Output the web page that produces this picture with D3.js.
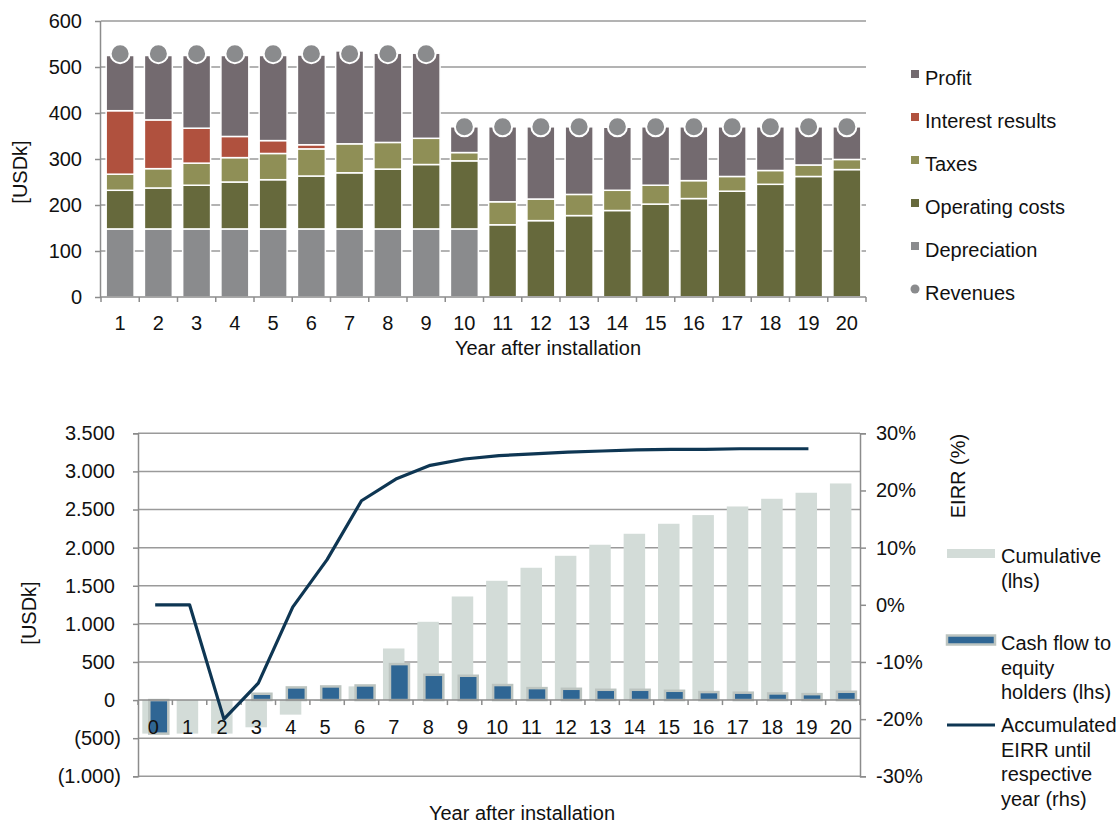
<!DOCTYPE html>
<html lang="en">
<head>
  <meta charset="UTF-8">
  <title>Revenues and cash flow</title>
  <style>
    body { margin: 0; background: #fff; font-family: "Liberation Sans", Arial, sans-serif; }
    text { fill: #111; font-size: 20px; }
    .grid line { stroke: #9a9a9a; stroke-width: 1.5px; }
    .axis path, .axis line { stroke: #8c8c8c; stroke-width: 1.5px; }
    .axis text { font-size: 20px; font-family: "Liberation Sans", Arial, sans-serif; fill: #111; }
  </style>
</head>
<body>
  <script src="https://d3js.org/d3.v7.min.js"></script>
  <script>
    // ---- top chart data (USDk) ----
    const years = d3.range(1, 21);
    const depreciation = [148, 148, 148, 148, 148, 148, 148, 148, 148, 148, 0, 0, 0, 0, 0, 0, 0, 0, 0, 0];
    const operatingCosts = [84, 89, 95, 102, 107, 115, 122, 130, 140, 148, 157, 166, 177, 188, 202, 214, 230, 245, 262, 277];
    const taxes = [35, 42, 48, 53, 57, 59, 63, 58, 57, 18, 50, 47, 46, 44, 41, 39, 32, 30, 25, 22];
    const interestResults = [138, 106, 76, 46, 28, 9, -2, -2, -2, -2, -2, -2, -2, -2, -2, -2, -2, -2, -2, -2];
    const profit = [120, 140, 158, 176, 185, 195, 202, 194, 185, 56, 163, 157, 147, 137, 127, 117, 108, 95, 83, 71];
    const revenues = [529, 529, 529, 529, 529, 529, 529, 529, 529, 370, 370, 370, 370, 370, 370, 370, 370, 370, 370, 370];
    const topTicks = [0, 100, 200, 300, 400, 500, 600];

    // ---- bottom chart data ----
    const years2 = d3.range(0, 21);
    const cumulative = [-440, -440, -440, -357, -191, -12, 180, 677, 1027, 1359, 1565, 1736, 1893, 2038, 2182, 2313, 2427, 2540, 2641, 2720, 2842];
    const cashFlow = [-440, 0, 0, 83, 166, 179, 192, 472, 332, 319, 197, 157, 148, 135, 135, 122, 105, 97, 87, 78, 109];
    const eirr = [0, 0, -0.20, -0.137, -0.004, 0.079, 0.182, 0.22, 0.244, 0.255, 0.261, 0.264, 0.267, 0.269, 0.271, 0.272, 0.272, 0.273, 0.273, 0.273];
    const leftTicks = [-1000, -500, 0, 500, 1000, 1500, 2000, 2500, 3000, 3500];
    const rightTicks = [-0.3, -0.2, -0.1, 0, 0.1, 0.2, 0.3];

    const svg = d3.select("body").append("svg").attr("width", 1120).attr("height", 825);

    // ================= TOP CHART =================
    const keys = ["Depreciation", "Operating costs", "Taxes", "Interest results", "Profit"];
    const colors = {
      "Profit": "#736a6f",
      "Interest results": "#b0513e",
      "Taxes": "#8f8f56",
      "Operating costs": "#66693c",
      "Depreciation": "#8a8b8d",
      "Revenues": "#8a8b8d"
    };
    const rows = years.map((y, i) => ({
      year: y,
      "Depreciation": depreciation[i],
      "Operating costs": operatingCosts[i],
      "Taxes": taxes[i],
      "Interest results": interestResults[i],
      "Profit": profit[i]
    }));

    const x1 = d3.scaleBand().domain(years).range([101, 866]).paddingInner(0.27).paddingOuter(0.135);
    const y1 = d3.scaleLinear().domain([0, 600]).range([297, 21]);

    svg.append("g").attr("class", "grid")
      .selectAll("line").data(topTicks.filter(d => d > 0)).join("line")
      .attr("x1", 101).attr("x2", 866)
      .attr("y1", d => y1(d)).attr("y2", d => y1(d));

    const stack = d3.stack().keys(keys).offset(d3.stackOffsetDiverging);
    const series = stack(rows);

    svg.append("g").selectAll("g").data(series).join("g")
      .attr("fill", d => colors[d.key])
      .selectAll("rect").data(d => d).join("rect")
      .attr("x", d => x1(d.data.year))
      .attr("width", x1.bandwidth())
      .attr("y", d => y1(Math.max(d[0], d[1])))
      .attr("height", d => Math.abs(y1(d[0]) - y1(d[1])))
      .attr("stroke", "#fff").attr("stroke-width", 1.5);

    svg.append("g").selectAll("circle").data(revenues).join("circle")
      .attr("cx", (d, i) => x1(years[i]) + x1.bandwidth() / 2)
      .attr("cy", d => y1(d))
      .attr("r", 9.5)
      .attr("fill", colors["Revenues"])
      .attr("stroke", "#fff").attr("stroke-width", 2);

    svg.append("g").attr("class", "axis")
      .attr("transform", "translate(101,0)")
      .call(d3.axisLeft(y1).tickValues(topTicks).tickSize(6).tickPadding(13))
      .call(g => g.select(".domain").attr("d", "M-0.5,21V297"));

    // x axis: labels at band centres, ticks at band edges
    const xAxisTop = svg.append("g").attr("class", "axis").attr("transform", "translate(0,297)");
    xAxisTop.call(d3.axisBottom(x1).tickSize(0).tickPadding(19))
      .call(g => g.select(".domain").attr("d", "M101,0H866"));
    xAxisTop.selectAll(".edge").data(d3.range(21)).join("line")
      .attr("class", "edge")
      .attr("x1", d => 101 + d * x1.step()).attr("x2", d => 101 + d * x1.step())
      .attr("y1", 0).attr("y2", 5);

    svg.append("text").attr("x", 548).attr("y", 355).attr("text-anchor", "middle").text("Year after installation");
    svg.append("text").attr("transform", "translate(27,172) rotate(-90)").attr("text-anchor", "middle").text("[USDk]");

    // top legend
    const legendKeys = ["Profit", "Interest results", "Taxes", "Operating costs", "Depreciation", "Revenues"];
    const lg = svg.append("g").selectAll("g").data(legendKeys).join("g")
      .attr("transform", (d, i) => `translate(911,${78 + i * 43})`);
    lg.filter(d => d !== "Revenues").append("rect")
      .attr("x", 0).attr("y", -8).attr("width", 8).attr("height", 8)
      .attr("fill", d => colors[d]);
    lg.filter(d => d === "Revenues").append("circle")
      .attr("cx", 4).attr("cy", -4).attr("r", 4.5).attr("fill", colors["Revenues"]);
    lg.append("text").attr("x", 14).attr("y", 7).text(d => d);

    // ================= BOTTOM CHART =================
    const x2 = d3.scaleBand().domain(years2).range([138, 860]);
    const y2 = d3.scaleLinear().domain([-1000, 3500]).range([776.3, 433.3]);
    const yR = d3.scaleLinear().domain([-0.3, 0.3]).range([776.3, 433.3]);

    svg.append("g").attr("class", "grid")
      .selectAll("line").data(leftTicks.filter(d => d !== 0)).join("line")
      .attr("x1", 138).attr("x2", 860)
      .attr("y1", d => y2(d)).attr("y2", d => y2(d));

    const locale = d3.formatLocale({ decimal: ",", thousands: ".", grouping: [3], currency: ["", ""] });
    const fmt = locale.format(",.0f");

    svg.append("g").selectAll("rect").data(cumulative).join("rect")
      .attr("x", (d, i) => x2(years2[i]) + 4.3)
      .attr("width", 21.5)
      .attr("y", d => y2(Math.max(0, d)))
      .attr("height", d => Math.abs(y2(d) - y2(0)))
      .attr("fill", "#d3dcd8");

    const cashRows = years2.map((y, i) => ({ year: y, value: cashFlow[i] })).filter(d => d.value !== 0);
    svg.append("g").selectAll("rect").data(cashRows).join("rect")
      .attr("x", d => x2(d.year) + 11.3)
      .attr("width", 19)
      .attr("y", d => y2(Math.max(0, d.value)))
      .attr("height", d => Math.abs(y2(d.value) - y2(0)))
      .attr("fill", "#2f6694")
      .attr("stroke", "#bcc4c0").attr("stroke-width", 2.5);

    const leftAxis = svg.append("g").attr("class", "axis").attr("transform", "translate(138,0)")
      .call(d3.axisLeft(y2).tickValues(leftTicks).tickSize(5).tickPadding(18)
        .tickFormat(d => d < 0 ? "(" + fmt(-d) + ")" : fmt(d)));
    leftAxis.selectAll(".tick text").attr("dx", d => d < 0 ? 6 : 0);

    const pct = d3.format(".0%");
    svg.append("g").attr("class", "axis").attr("transform", "translate(860,0)")
      .call(d3.axisRight(yR).tickValues(rightTicks).tickSize(6).tickPadding(10)
        .tickFormat(d => pct(d).replace("\u2212", "-")));

    const xAxisBottom = svg.append("g").attr("class", "axis").attr("transform", `translate(0,${y2(0)})`);
    xAxisBottom.call(d3.axisBottom(x2).tickSize(0).tickPadding(20))
      .call(g => g.select(".domain").attr("d", "M138,0H860"));
    xAxisBottom.selectAll(".tick text").attr("dx", -2);
    xAxisBottom.selectAll(".edge").data(d3.range(22)).join("line")
      .attr("class", "edge")
      .attr("x1", d => 138 + d * x2.step()).attr("x2", d => 138 + d * x2.step())
      .attr("y1", 0).attr("y2", 5);

    const line = d3.line()
      .x((d, i) => x2(years2[i]) + x2.bandwidth() / 2)
      .y(d => yR(d));
    svg.append("path").datum(eirr)
      .attr("d", line)
      .attr("fill", "none")
      .attr("stroke", "#0e3653").attr("stroke-width", 3.2)
      .attr("stroke-linejoin", "round");

    svg.append("text").attr("transform", "translate(36,613) rotate(-90)").attr("text-anchor", "middle").text("[USDk]");
    svg.append("text").attr("transform", "translate(965,476) rotate(-90)").attr("text-anchor", "middle").text("EIRR (%)");
    svg.append("text").attr("x", 522).attr("y", 820).attr("text-anchor", "middle").text("Year after installation");

    // bottom legend
    const leg2 = svg.append("g").attr("transform", "translate(947,0)");
    leg2.append("rect").attr("x", 0).attr("y", 549).attr("width", 48).attr("height", 9).attr("fill", "#d3dcd8");
    leg2.append("rect").attr("x", 0).attr("y", 635.5).attr("width", 48).attr("height", 9)
      .attr("fill", "#2f6694").attr("stroke", "#bcc4c0").attr("stroke-width", 2.5);
    leg2.append("line").attr("x1", 0).attr("x2", 48).attr("y1", 725).attr("y2", 725)
      .attr("stroke", "#0e3653").attr("stroke-width", 3);

    const legendText = [
      { y: 563, lines: ["Cumulative", "(lhs)"] },
      { y: 650, lines: ["Cash flow to", "equity", "holders (lhs)"] },
      { y: 732, lines: ["Accumulated", "EIRR until", "respective", "year (rhs)"] }
    ];
    leg2.selectAll("text").data(legendText).join("text")
      .attr("x", 54).attr("y", d => d.y)
      .selectAll("tspan").data(d => d.lines).join("tspan")
      .attr("x", 54).attr("dy", (d, i) => i === 0 ? 0 : 24.5)
      .text(d => d);
  </script>
</body>
</html>
